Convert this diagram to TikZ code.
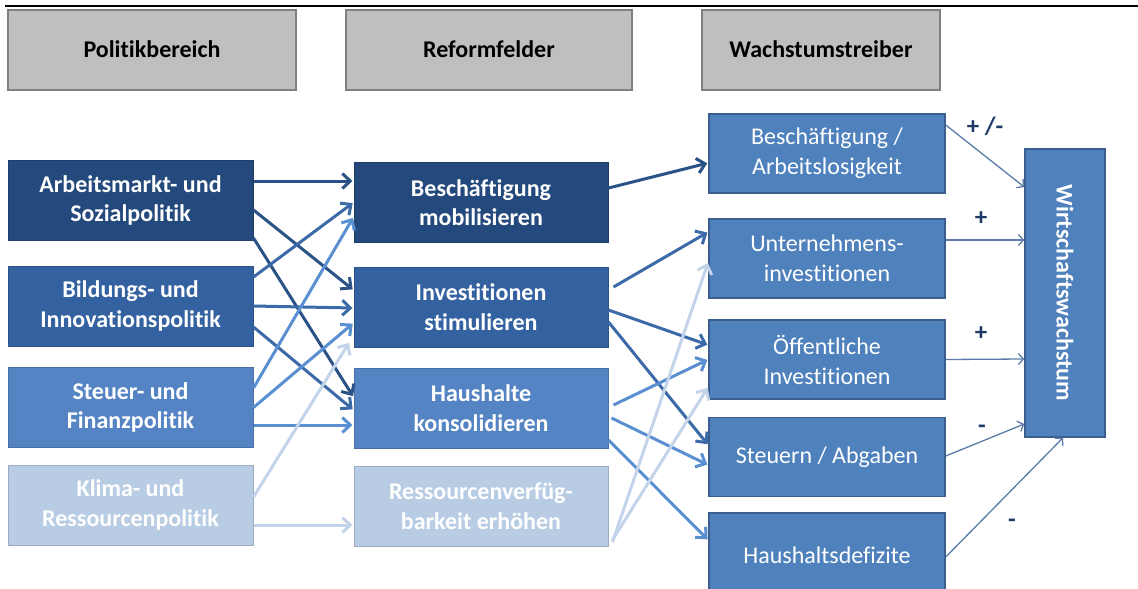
\documentclass[tikz,border=0pt]{standalone}
\usepackage{fontspec}
\setmainfont{Carlito}[Ligatures=NoCommon]
\usetikzlibrary{arrows.meta}
\definecolor{hdrfill}{HTML}{BFBFBF}
\definecolor{hdrline}{HTML}{808080}
\definecolor{cA}{HTML}{24497D}
\definecolor{cB}{HTML}{3462A0}
\definecolor{cC}{HTML}{5584C4}
\definecolor{cD}{HTML}{B8CCE4}
\definecolor{aA}{HTML}{2A5287}
\definecolor{aB}{HTML}{3C6AA8}
\definecolor{aC}{HTML}{5A8FD2}
\definecolor{aD}{HTML}{C3D4EA}
\definecolor{cR}{HTML}{4F81BD}
\definecolor{cRline}{HTML}{3A5F8F}
\definecolor{thin}{HTML}{5B7BA8}
\definecolor{sign}{HTML}{1F3A68}
\begin{document}
\begin{tikzpicture}[x=1pt,y=-1pt,
  hdr/.style={draw=hdrline, line width=2pt, fill=hdrfill, minimum height=80pt,
    inner sep=0pt, font=\fontsize{24}{29}\selectfont\bfseries, text=black},
  pbox/.style={fill=#1, draw=#1!85!black, line width=1pt, minimum height=80pt,
    inner sep=0pt, align=center, text=white,
    font=\fontsize{24}{29.5}\selectfont\bfseries},
  rbox/.style={fill=cR, draw=cRline, line width=1.5pt, minimum width=236pt,
    minimum height=79pt, inner sep=0pt, align=center, text=white,
    font=\fontsize{24}{30}\selectfont},
  arr/.style={draw=#1, line width=3pt, shorten >=1pt,
    -{Straight Barb[length=8pt,width=15pt]}},
  tarr/.style={draw=thin, line width=1.3pt,
    -{Straight Barb[length=5pt,width=11pt]}},
  sg/.style={font=\fontsize{25}{26}\selectfont\bfseries, text=sign, inner sep=0pt}
]
\useasboundingbox (0,0) rectangle (1138,589);
\clip (0,0) rectangle (1138,589);
\fill[white] (0,0) rectangle (1138,589);
\draw[line width=2pt] (5,6) -- (1138,6);

% headers
\node[hdr, minimum width=288pt] (H1) at (152,49.5) {Politikbereich};
\node[hdr, minimum width=286pt] (H2) at (489,49.5) {Reformfelder};
\node[hdr, minimum width=238pt] (H3) at (821,49.5) {Wachstumstreiber};

% left column
\node[pbox=cA, minimum width=245pt] (A1) at (130.5,200.5) {Arbeitsmarkt- und\\Sozialpolitik};
\node[pbox=cB, minimum width=245pt] (A2) at (130.5,306) {Bildungs- und\\Innovationspolitik};
\node[pbox=cC, minimum width=245pt] (A3) at (130.5,407.5) {Steuer- und\\Finanzpolitik};
\node[pbox=cD, minimum width=245pt] (A4) at (130.5,505) {Klima- und\\Ressourcenpolitik};

% middle column
\node[pbox=cA, minimum width=254pt] (B1) at (481,202.5) {Beschäftigung\\mobilisieren};
\node[pbox=cB, minimum width=254pt] (B2) at (481,307) {Investitionen\\stimulieren};
\node[pbox=cC, minimum width=254pt] (B3) at (481,408) {Haushalte\\konsolidieren};
\node[pbox=cD, minimum width=254pt] (B4) at (481,506) {Ressourcenverfüg-\\barkeit erhöhen};

% right column
\node[rbox] (C1) at (827,153.5) {Beschäftigung /\\Arbeitslosigkeit};
\node[rbox] (C2) at (827,258.5) {Unternehmens-\\investitionen};
\node[rbox] (C3) at (827,359.5) {Öffentliche\\Investitionen};
\node[rbox] (C4) at (827,457) {Steuern / Abgaben};
\node[rbox, minimum height=84pt] (C5) at (827,555) {Haushaltsdefizite};

\node[fill=cR, draw=cRline, line width=1.5pt, minimum width=80pt, minimum height=288pt,
  inner sep=0pt] (W) at (1065,293) {};
\node[text=white, font=\fontsize{24}{26}\selectfont\bfseries, rotate=-90, inner sep=0pt]
  (Wt) at (W.center) {Wirtschaftswachstum};

% left -> middle
\draw[arr=aA] ([yshift=19.5pt]A1.east) -- ([yshift=21.5pt]B1.west);
\draw[arr=aA] ([yshift=-9.5pt]A1.east) -- ([yshift=17pt]B2.west);
\draw[arr=aA] ([yshift=-37.5pt]A1.east) -- ([yshift=11pt]B3.west);
\draw[arr=aB] ([yshift=29pt]A2.east) -- ([yshift=0pt]B1.west);
\draw[arr=aB] ([yshift=0pt]A2.east) -- ([yshift=-1pt]B2.west);
\draw[arr=aB] ([yshift=-21pt]A2.east) -- ([yshift=-2pt]B3.west);
\draw[arr=aC] ([yshift=19.5pt]A3.east) -- ([yshift=-14.5pt]B1.west);
\draw[arr=aC] ([yshift=0pt]A3.east) -- ([yshift=-16pt]B2.west);
\draw[arr=aC] ([yshift=-17.5pt]A3.east) -- ([yshift=-17pt]B3.west);
\draw[arr=aD] ([yshift=8pt]A4.east) -- ([xshift=-4pt,yshift=-35pt]B2.west);
\draw[arr=aD] ([yshift=-20pt]A4.east) -- ([yshift=-19pt]B4.west);

% middle -> right
\draw[arr=aA] ([yshift=14.5pt]B1.east) -- ([yshift=-9.5pt]C1.west);
\draw[arr=aB] ([xshift=5pt,yshift=20pt]B2.east) -- ([yshift=26.5pt]C2.west);
\draw[arr=aB] ([yshift=-3pt]B2.east) -- ([yshift=14.5pt]C3.west);
\draw[arr=aB] ([yshift=-15pt]B2.east) -- ([yshift=12pt]C4.west);
\draw[arr=aC] ([xshift=5pt,yshift=3pt]B3.east) -- ([yshift=0pt]C3.west);
\draw[arr=aC] ([xshift=3pt,yshift=-10pt]B3.east) -- ([yshift=-8pt]C4.west);
\draw[arr=aC] ([yshift=-32pt]B3.east) -- ([yshift=15pt]C5.west);
\draw[arr=aD] ([xshift=4pt,yshift=-36pt]B4.east) -- ([yshift=-3.5pt]C2.west);
\draw[arr=aD] ([xshift=4pt,yshift=-34pt]B4.east) -- ([yshift=-27.5pt]C3.west);

% right -> W
\draw[tarr] ([yshift=28.5pt]C1.east) -- ([yshift=106pt]W.west);
\draw[tarr] ([yshift=18.5pt]C2.east) -- ([yshift=53pt]W.west);
\draw[tarr] ([yshift=0pt]C3.east) -- ([yshift=-66pt]W.west);
\draw[tarr] ([yshift=1pt]C4.east) -- ([yshift=-131pt]W.west);
\draw[tarr] ([yshift=-2pt]C5.east) -- ([xshift=-2pt]W.south);

% signs
\node[sg] (s1) at (985,126) {+ /-};
\node[sg] (s2) at (981,219) {+};
\node[sg] (s3) at (981,334) {+};
\node[sg] (s4) at (982,429) {-};
\node[sg] (s5) at (1012,523) {-};
\end{tikzpicture}
\end{document}
